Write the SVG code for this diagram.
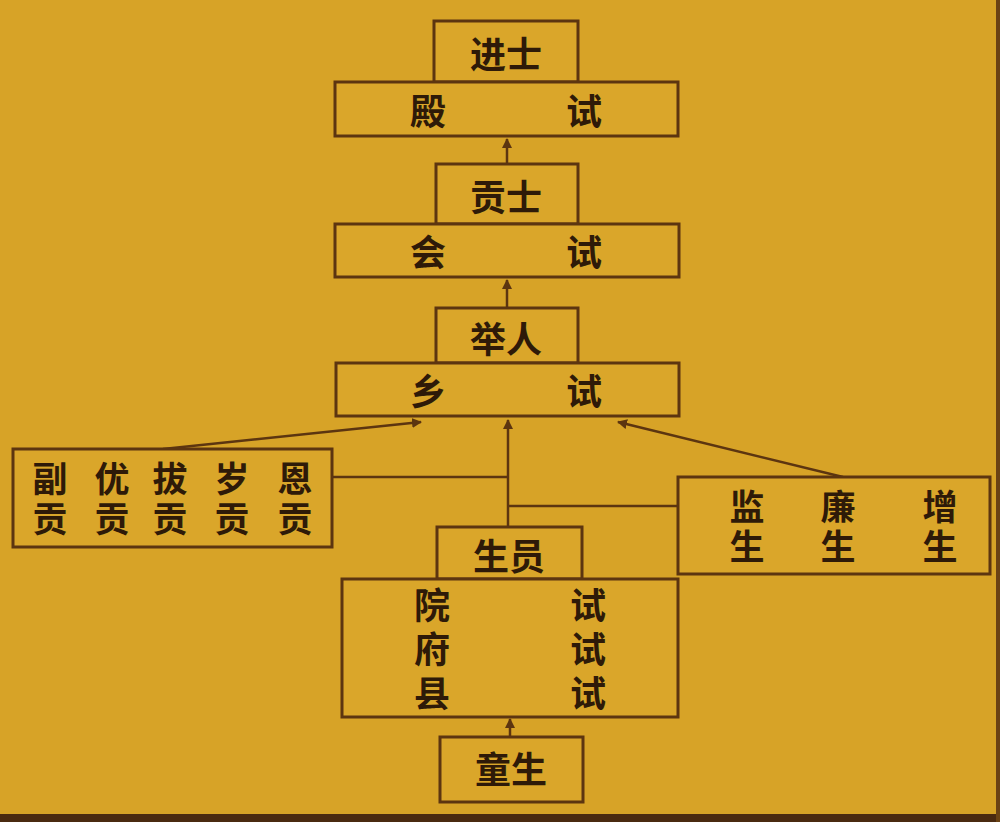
<svg xmlns="http://www.w3.org/2000/svg" width="1000" height="822" viewBox="0 0 1000 822">
<defs>
<style>
.box{fill:#DAA62A;stroke:#5C3510;stroke-width:3}
.t{font-family:"Noto Sans CJK SC","Noto Sans CJK TC",sans-serif;font-size:36px;font-weight:bold;fill:#2E1A08;text-anchor:middle;dominant-baseline:central}
.v{writing-mode:vertical-rl;font-size:35px;letter-spacing:5px}
.v2{writing-mode:vertical-rl;letter-spacing:8px}
.ln{stroke:#5C3510;stroke-width:2.5;fill:none}
</style>
<marker id="ah" viewBox="0 0 10 10" refX="9" refY="5" markerWidth="4" markerHeight="4" orient="auto-start-reverse">
<path d="M0,0 L10,5 L0,10 z" fill="#5C3510"/>
</marker>
</defs>
<rect x="0" y="0" width="1000" height="822" fill="#D7A327"/>
<rect x="0" y="814" width="1000" height="8" fill="#4A2A10"/>
<rect x="996" y="0" width="4" height="822" fill="#6A4214"/>

<g id="connectors">
<line class="ln" x1="507" y1="164" x2="507" y2="139" marker-end="url(#ah)"/>
<line class="ln" x1="507" y1="308" x2="507" y2="280" marker-end="url(#ah)"/>
<line class="ln" x1="508" y1="527" x2="508" y2="420" marker-end="url(#ah)"/>
<line class="ln" x1="163" y1="449" x2="421" y2="422" marker-end="url(#ah)"/>
<line class="ln" x1="843" y1="477" x2="618" y2="422" marker-end="url(#ah)"/>
<line class="ln" x1="332" y1="477" x2="508" y2="477"/>
<line class="ln" x1="508" y1="506" x2="678" y2="506"/>
<line class="ln" x1="510" y1="666" x2="510" y2="639" marker-end="url(#ah)"/>
<line class="ln" x1="510" y1="737" x2="510" y2="719" marker-end="url(#ah)"/>
</g>

<g id="jinshi">
<rect class="box" x="434" y="21" width="144" height="61"/>
<text class="t" x="506" y="52">进士</text>
</g>
<g id="dianshi">
<rect class="box" x="335" y="82" width="343" height="54"/>
<text class="t" x="428" y="109">殿</text>
<text class="t" x="584" y="109">试</text>
</g>
<g id="gongshi">
<rect class="box" x="436" y="164" width="142" height="60"/>
<text class="t" x="506" y="195">贡士</text>
</g>
<g id="huishi">
<rect class="box" x="335" y="224" width="344" height="53"/>
<text class="t" x="428" y="250">会</text>
<text class="t" x="584" y="250">试</text>
</g>
<g id="juren">
<rect class="box" x="436" y="308" width="142" height="55"/>
<text class="t" x="506" y="337">举人</text>
</g>
<g id="xiangshi">
<rect class="box" x="336" y="363" width="343" height="53"/>
<text class="t" x="428" y="389">乡</text>
<text class="t" x="584" y="389">试</text>
</g>
<g id="gong">
<rect class="box" x="13" y="449" width="319" height="98"/>
<text class="t v" x="50" y="501">副贡</text>
<text class="t v" x="112" y="501">优贡</text>
<text class="t v" x="170" y="501">拔贡</text>
<text class="t v" x="232" y="501">岁贡</text>
<text class="t v" x="295" y="501">恩贡</text>
</g>
<g id="jiansheng">
<rect class="box" x="678" y="477" width="312" height="97"/>
<text class="t v" x="747" y="529">监生</text>
<text class="t v" x="838" y="529">廉生</text>
<text class="t v" x="940" y="529">增生</text>
</g>
<g id="shengyuan">
<rect class="box" x="437" y="527" width="145" height="52"/>
<text class="t" x="509" y="554">生员</text>
</g>
<g id="yuanshi">
<rect class="box" x="342" y="579" width="336" height="138"/>
<text class="t v2" x="432" y="653">院府县</text>
<text class="t v2" x="588" y="653">试试试</text>
</g>
<g id="tongsheng">
<rect class="box" x="440" y="737" width="143" height="65"/>
<text class="t" x="511" y="767">童生</text>
</g>
</svg>
